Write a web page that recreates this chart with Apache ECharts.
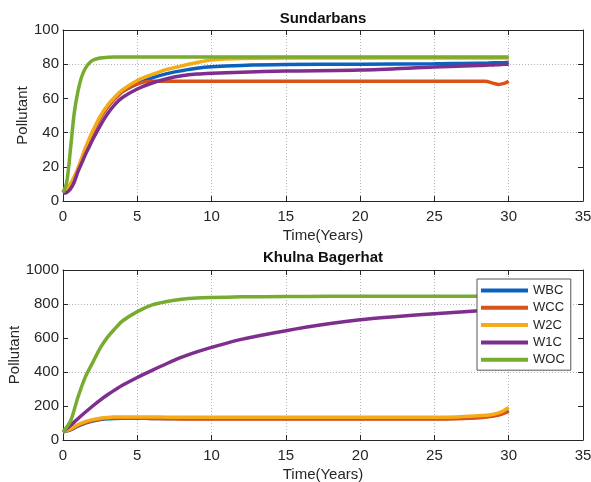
<!DOCTYPE html>
<html>
<head>
<meta charset="utf-8">
<script src="https://cdn.jsdelivr.net/npm/echarts@6/dist/echarts.min.js"></script>
<style>
html,body{margin:0;padding:0;background:#fff;}
#chart{width:591px;height:482px;}
</style>
</head>
<body>
<div id="chart"></div>
<script>
// ---- data ----
const seriesNames = ['WBC', 'WCC', 'W2C', 'W1C', 'WOC'];
const xTicks = [0, 5, 10, 15, 20, 25, 30, 35];

// Sundarbans (top)
const tTop = [0, 0.25, 0.5, 0.75, 1, 1.25, 1.5, 1.75, 2, 2.5, 3, 3.5, 4, 5, 6, 7, 8, 9, 10, 12, 15, 20, 25, 28, 28.4, 29, 29.3, 29.7, 30];
const topWBC = [5, 7, 9.5, 13.5, 18, 24, 30, 35, 40, 48.5, 55, 60, 64, 68.5, 72, 74.5, 76.2, 77.6, 78.5, 79.3, 79.8, 80, 80.3, 80.6, 80.6, 80.8, 80.8, 80.9, 81];
const topWCC = [5, 7, 9.5, 13.5, 18, 24, 30, 35, 40, 48.5, 55, 60, 64, 68.5, 70, 70, 70, 70, 70, 70, 70, 70, 70, 70, 70, 68.8, 68.2, 68.8, 70];
const topW2C = [5, 7, 10, 14, 19, 25, 31, 36, 41, 49.5, 56, 61, 65, 70.5, 74, 77, 79, 81, 82.5, 83.3, 83.6, 83.6, 83.6, 83.6, 83.6, 83.6, 83.6, 83.6, 83.6];
const topW1C = [4.5, 5, 7, 11, 17, 22, 27, 31.5, 36, 44, 51, 56.5, 60.5, 65.5, 69, 71.5, 73.2, 74.2, 74.7, 75.3, 76, 76.6, 78.3, 79.2, 79.4, 79.6, 79.7, 79.9, 80];
const topWOC = [5, 11, 30, 51, 64, 72.5, 77.5, 80.5, 82.3, 83.6, 84, 84.2, 84.2, 84.2, 84.2, 84.2, 84.2, 84.2, 84.2, 84.2, 84.2, 84.2, 84.2, 84.2, 84.2, 84.2, 84.2, 84.2, 84.2];

// Khulna Bagerhat (bottom)
const tBot = [0, 0.5, 1, 1.5, 2, 2.5, 3, 3.5, 4, 5, 6, 7, 8, 9, 10, 12, 15, 18, 20, 22.5, 25, 26.5, 28, 29, 29.5, 30];
const botWBC = [48, 60, 82, 100, 112, 120, 125, 127, 128, 128, 127, 126.5, 126, 126, 126, 126, 126, 126, 126, 126, 126, 128, 134, 144, 154, 172];
const botWCC = [48, 62, 85, 103, 115, 123, 128, 129.5, 130, 129, 127, 125.5, 124, 123.5, 123, 123, 123, 123, 123, 123, 123, 125, 131, 141, 151, 168];
const botW2C = [48, 65, 90, 108, 120, 128, 133, 135, 136, 136, 135, 134.5, 134, 134, 134, 134, 134, 134, 134, 134, 134, 136, 142, 152, 165, 192];
const botW1C = [48, 85, 125, 163, 200, 235, 266, 295, 322, 368, 410, 450, 487, 518, 545, 592, 643, 685, 707, 726, 743, 752, 760, 765, 768, 772];
const botWOC = [48, 110, 250, 370, 455, 540, 605, 655, 700, 755, 795, 815, 828, 835, 838, 842, 844, 845, 845, 845, 845, 845, 845, 845, 845, 845];

// ---- styling ----
const colors = ['#0B62BE', '#D95319', '#F5AA17', '#7E2F8E', '#77AC30'];
const axisColor = '#262626';
const font = 'Liberation Sans, Arial, sans-serif';

const chart = echarts.init(document.getElementById('chart'), null, {renderer: 'canvas'});

const grids = [
  {left: 63, top: 30, width: 520, height: 171, containLabel: false, outerBoundsMode: 'none'},
  {left: 63, top: 270, width: 520, height: 170, containLabel: false, outerBoundsMode: 'none'}
];

function xAxes(gi) {
  return [
    {
      gridIndex: gi, type: 'value', min: 0, max: 35, interval: 5, position: 'bottom',
      axisLine: {show: true, onZero: false, lineStyle: {color: axisColor, width: 1}},
      axisTick: {show: true, inside: true, length: 5, lineStyle: {color: axisColor}},
      axisLabel: {show: true, color: axisColor, fontSize: 15, fontFamily: font, margin: 8,
        formatter: v => xTicks.includes(v) ? String(v) : ''},
      splitLine: {show: true, lineStyle: {color: '#b5b5b5', type: [1, 2], width: 1}},
      name: 'Time(Years)', nameLocation: 'middle', nameGap: 27, nameMoveOverlap: false,
      nameTextStyle: {color: axisColor, fontSize: 15, fontFamily: font}
    },
    {
      gridIndex: gi, type: 'value', min: 0, max: 35, interval: 5, position: 'top',
      axisLine: {show: true, onZero: false, lineStyle: {color: axisColor, width: 1}},
      axisTick: {show: true, inside: true, length: 5, lineStyle: {color: axisColor}},
      axisLabel: {show: false}, splitLine: {show: false}
    }
  ];
}

function yAxes(gi, max, interval, gridInterval) {
  return [
    {
      gridIndex: gi, type: 'value', min: 0, max: max, interval: interval, position: 'left',
      axisLine: {show: true, onZero: false, lineStyle: {color: axisColor, width: 1}},
      axisTick: {show: true, inside: true, length: 5, lineStyle: {color: axisColor}},
      axisLabel: {show: true, color: axisColor, fontSize: 15, fontFamily: font, margin: 4,
        formatter: v => String(v)},
      splitLine: {show: false},
      name: 'Pollutant', nameLocation: 'middle', nameGap: gi === 0 ? 33 : 41, nameMoveOverlap: false,
      nameTextStyle: {color: axisColor, fontSize: 15, fontFamily: font}
    },
    {
      gridIndex: gi, type: 'value', min: 0, max: max, interval: interval, position: 'right',
      axisLine: {show: true, onZero: false, lineStyle: {color: axisColor, width: 1}},
      axisTick: {show: true, inside: true, length: 5, lineStyle: {color: axisColor}},
      axisLabel: {show: false}, splitLine: {show: false}
    },
    {
      gridIndex: gi, type: 'value', min: 0, max: max, interval: gridInterval, position: 'left',
      axisLine: {show: false}, axisTick: {show: false}, axisLabel: {show: false},
      splitLine: {show: true, lineStyle: {color: '#b5b5b5', type: [1, 2], width: 1}}
    }
  ];
}

function makeSeries(t, arrs, xi, yi) {
  return arrs.map((arr, k) => ({
    name: seriesNames[k],
    type: 'line',
    xAxisIndex: xi,
    yAxisIndex: yi,
    data: t.map((tt, i) => [tt, arr[i]]),
    symbol: 'none',
    showSymbol: false,
    smooth: 0.3,
    color: colors[k],
    lineStyle: {width: 3.5, color: colors[k]},
    emphasis: {disabled: true},
    animation: false
  }));
}

const option = {
  backgroundColor: '#ffffff',
  animation: false,
  textStyle: {fontFamily: font},
  title: [
    {text: 'Sundarbans', left: 323, top: 11, textAlign: 'center', padding: 0,
      textStyle: {fontSize: 15, fontWeight: 'bold', color: '#111', fontFamily: font}},
    {text: 'Khulna Bagerhat', left: 323, top: 250, textAlign: 'center', padding: 0,
      textStyle: {fontSize: 15, fontWeight: 'bold', color: '#111', fontFamily: font}}
  ],
  grid: grids,
  xAxis: [...xAxes(0), ...xAxes(1)],
  yAxis: [...yAxes(0, 100, 20, 40), ...yAxes(1, 1000, 200, 400)],
  legend: {
    show: true,
    data: seriesNames,
    orient: 'vertical',
    left: 477, top: 279,
    padding: [5, 6, 4, 4],
    icon: 'rect',
    itemWidth: 47, itemHeight: 4, itemGap: 4.3,
    backgroundColor: '#ffffff',
    borderColor: '#555',
    borderWidth: 1,
    borderRadius: 0,
    selectedMode: false,
    textStyle: {color: axisColor, fontSize: 13, fontFamily: font, lineHeight: 13}
  },
  series: [
    ...makeSeries(tTop, [topWBC, topWCC, topW2C, topW1C, topWOC], 0, 0),
    ...makeSeries(tBot, [botWBC, botWCC, botW2C, botW1C, botWOC], 2, 3)
  ]
};

chart.setOption(option);
</script>
</body>
</html>
